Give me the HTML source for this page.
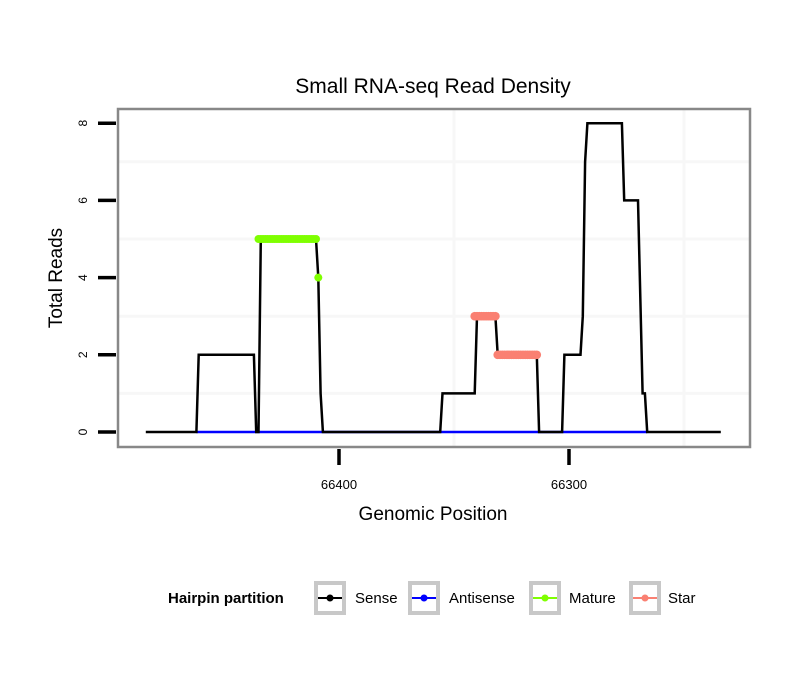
<!DOCTYPE html>
<html><head><meta charset="utf-8"><style>
body{margin:0;background:#fff;font-family:"Liberation Sans",sans-serif}
svg text{font-family:"Liberation Sans",sans-serif}
</style></head><body>
<svg id="chart" width="810" height="690" xmlns="http://www.w3.org/2000/svg">
<rect width="810" height="690" fill="#fff"/>
<text x="433" y="93" font-size="21" text-anchor="middle">Small RNA-seq Read Density</text>
<g id="grid"></g>
<g id="series"></g>
<rect x="118" y="109" width="632" height="338" fill="none" stroke="#888" stroke-width="2.5"/>
<g id="axes"></g>
<text x="433" y="520" font-size="19" text-anchor="middle">Genomic Position</text>
<text transform="translate(62,278) rotate(-90)" font-size="19" text-anchor="middle">Total Reads</text>
<g id="legend">
<text x="168" y="603" font-size="15" font-weight="bold">Hairpin partition</text>
</g>
</svg>
<script>
const senseX=[66484,66462,66461,66437,66436,66435,66434,66410,66409,66408,66407,66356,66355,66341,66340,66332,66331,66314,66313,66303,66302,66295,66294,66293,66292,66277,66276,66270,66268,66267,66266,66234];
const senseY=[0,0,2,2,0,0,5,5,4,1,0,0,1,1,3,3,2,2,0,0,2,2,3,7,8,8,6,6,1,1,0,0];
const antisenseX=[66462,66266];
const antisenseY=[0,0];
const matureX=[66435,66434,66433,66432,66431,66430,66429,66428,66427,66426,66425,66424,66423,66422,66421,66420,66419,66418,66417,66416,66415,66414,66413,66412,66411,66410,66409];
const matureY=[5,5,5,5,5,5,5,5,5,5,5,5,5,5,5,5,5,5,5,5,5,5,5,5,5,5,4];
const starX=[66341,66340,66339,66338,66337,66336,66335,66334,66333,66332,66331,66330,66329,66328,66327,66326,66325,66324,66323,66322,66321,66320,66319,66318,66317,66316,66315,66314];
const starY=[3,3,3,3,3,3,3,3,3,3,2,2,2,2,2,2,2,2,2,2,2,2,2,2,2,2,2,2];
const xTicks=[66400,66300];
const xMinor=[66350,66250];
const yTicks=[0,2,4,6,8];
const yMinor=[1,3,5,7];
const legendLabels=["Sense","Antisense","Mature","Star"];
const legendColors=["#000","#0000ff","#7fff00","#fa8072"];

const NS="http://www.w3.org/2000/svg";
function X(g){return 339-(g-66400)*2.3;}
function Y(v){return 432-v*38.6;}
function mk(tag,attrs,parent){const e=document.createElementNS(NS,tag);for(const k in attrs)e.setAttribute(k,attrs[k]);parent.appendChild(e);return e;}
const grid=document.getElementById('grid'),ser=document.getElementById('series'),axes=document.getElementById('axes'),leg=document.getElementById('legend');
yMinor.forEach(v=>{const l=mk('line',{x1:119,x2:749,y1:Y(v),y2:Y(v),stroke:'#f7f7f7','stroke-width':3},grid);

});
xMinor.forEach(v=>{const l=mk('line',{x1:X(v),x2:X(v),y1:110,y2:446,stroke:'#f7f7f7','stroke-width':3},grid);

});
function pts(xs,ys){return xs.map((x,i)=>X(x)+','+Y(ys[i])).join(' ');}
const a=mk('polyline',{points:pts(antisenseX,antisenseY),fill:'none',stroke:'#0000ff','stroke-width':2.5},ser);


const s=mk('polyline',{points:pts(senseX,senseY),fill:'none',stroke:'#000','stroke-width':2.5},ser);


matureX.forEach((x,i)=>{const c=mk('circle',{cx:X(x),cy:Y(matureY[i]),r:4,fill:'#7fff00'},ser);

});
starX.forEach((x,i)=>{const c=mk('circle',{cx:X(x),cy:Y(starY[i]),r:4.3,fill:'#fa8072'},ser);

});
yTicks.forEach(v=>{const l=mk('line',{x1:98,x2:116,y1:Y(v),y2:Y(v),stroke:'#000','stroke-width':3.5},axes);


const t=mk('text',{transform:`translate(87,${Y(v)}) rotate(-90)`,'font-size':12,'text-anchor':'middle'},axes);t.textContent=v;

});
xTicks.forEach(v=>{const l=mk('line',{x1:X(v),x2:X(v),y1:449,y2:465,stroke:'#000','stroke-width':3.5},axes);


const t=mk('text',{x:X(v),y:489,'font-size':13,'text-anchor':'middle'},axes);t.textContent=v;

});
const boxX=[314,408,529,629],textX=[355,449,569,668];
legendLabels.forEach((lab,i)=>{
const r=mk('rect',{x:boxX[i]+2,y:583,width:28,height:30,fill:'#fff',stroke:'#c8c8c8','stroke-width':4},leg);


mk('line',{x1:boxX[i]+4,x2:boxX[i]+28,y1:598,y2:598,stroke:legendColors[i],'stroke-width':2},leg);
mk('circle',{cx:boxX[i]+16,cy:598,r:3.5,fill:legendColors[i]},leg);
const t=mk('text',{x:textX[i],y:603,'font-size':15},leg);t.textContent=lab;

});
</script>
</body></html>
